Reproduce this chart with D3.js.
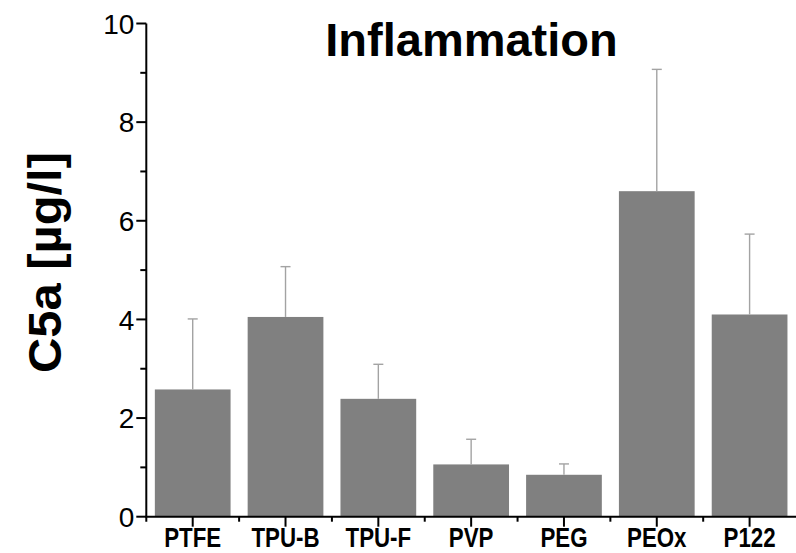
<!DOCTYPE html>
<html lang="en">
<head>
    <meta charset="utf-8">
    <title>Inflammation C5a</title>
    <script src="https://d3js.org/d3.v7.min.js"></script>
    <style>
        body {
            margin: 0;
            background-color: #fff;
        }

        .tick-label {
            font-family: Arial, "Liberation Sans", sans-serif;
            font-size: 28px;
        }

        .cat-label {
            font-family: Arial, "Liberation Sans", sans-serif;
            font-weight: bold;
            font-size: 27.5px;
        }
    </style>
</head>
<body>
    <svg id="chart" width="796" height="553"></svg>

    <script>
        // values
        const groups = ["PTFE", "TPU-B", "TPU-F", "PVP", "PEG", "PEOx", "P122"];
        const means = [2.58, 4.05, 2.39, 1.06, 0.85, 6.60, 4.10];
        const errors = [1.43, 1.02, 0.70, 0.51, 0.22, 2.47, 1.63];
        const yTicks = [0, 2, 4, 6, 8, 10];
        const yMinorTicks = [1, 3, 5, 7, 9];

        const svg = d3.select("#chart");

        let x = d3.scaleBand()
            .domain(groups)
            .range([146.3, 796])
            .paddingInner(0.184)
            .paddingOuter(0.092);

        let y = d3.scaleLinear()
            .domain([0, 10])
            .range([516.7, 23.5]);

        let data = groups.map((g, i) => ({ group: g, mean: means[i], err: errors[i] }));

        // bars
        svg.selectAll(".bar")
            .data(data)
            .join("rect")
            .attr("class", "bar")
            .attr("x", d => x(d.group))
            .attr("width", x.bandwidth())
            .attr("y", d => y(d.mean))
            .attr("height", d => y(0) - y(d.mean))
            .attr("fill", "#808080");

        // error bars (upper only)
        let eb = svg.selectAll(".err")
            .data(data)
            .join("g")
            .attr("class", "err")
            .attr("stroke", "#a3a3a3")
            .attr("stroke-width", 1.4);

        eb.append("line")
            .attr("x1", d => x(d.group) + x.bandwidth() / 2)
            .attr("x2", d => x(d.group) + x.bandwidth() / 2)
            .attr("y1", d => y(d.mean))
            .attr("y2", d => y(d.mean + d.err));

        eb.append("line")
            .attr("x1", d => x(d.group) + x.bandwidth() / 2 - 5)
            .attr("x2", d => x(d.group) + x.bandwidth() / 2 + 5)
            .attr("y1", d => y(d.mean + d.err))
            .attr("y2", d => y(d.mean + d.err));

        // y axis
        let yAxis = svg.append("g")
            .attr("transform", "translate(146.3,0)");

        yAxis.append("line")
            .attr("y1", y(10))
            .attr("y2", y(0) + 5)
            .attr("stroke", "#000")
            .attr("stroke-width", 2);

        yAxis.selectAll(".major")
            .data(yTicks)
            .join("line")
            .attr("x1", -10)
            .attr("x2", 0)
            .attr("y1", d => y(d))
            .attr("y2", d => y(d))
            .attr("stroke", "#000")
            .attr("stroke-width", 2);

        yAxis.selectAll(".minor")
            .data(yMinorTicks)
            .join("line")
            .attr("x1", -6)
            .attr("x2", 0)
            .attr("y1", d => y(d))
            .attr("y2", d => y(d))
            .attr("stroke", "#000")
            .attr("stroke-width", 2);

        yAxis.selectAll(".tick-label")
            .data(yTicks)
            .join("text")
            .attr("class", "tick-label")
            .attr("x", -12)
            .attr("y", d => y(d))
            .attr("dy", "0.36em")
            .attr("text-anchor", "end")
            .text(d => d);

        // x axis
        let xAxis = svg.append("g")
            .attr("transform", `translate(0,${y(0)})`);

        xAxis.append("line")
            .attr("x1", 146.3 - 1)
            .attr("x2", 796)
            .attr("stroke", "#000")
            .attr("stroke-width", 2);

        xAxis.selectAll(".major")
            .data(groups)
            .join("line")
            .attr("x1", d => x(d) + x.bandwidth() / 2)
            .attr("x2", d => x(d) + x.bandwidth() / 2)
            .attr("y1", 0)
            .attr("y2", 10)
            .attr("stroke", "#000")
            .attr("stroke-width", 2);

        xAxis.selectAll(".minor")
            .data(groups.slice(1))
            .join("line")
            .attr("x1", d => x(d) - x.step() * x.paddingInner() / 2)
            .attr("x2", d => x(d) - x.step() * x.paddingInner() / 2)
            .attr("y1", 0)
            .attr("y2", 5)
            .attr("stroke", "#000")
            .attr("stroke-width", 2);

        // condensed bold labels, like a narrow face
        xAxis.selectAll(".cat-label")
            .data(groups)
            .join("text")
            .attr("class", "cat-label")
            .attr("transform", d => `translate(${x(d) + x.bandwidth() / 2},30.5) scale(0.81,1)`)
            .attr("text-anchor", "middle")
            .text(d => d);

        // title
        svg.append("text")
            .attr("x", 471.5)
            .attr("y", 56)
            .attr("text-anchor", "middle")
            .style("font-family", "Arial, 'Liberation Sans', sans-serif")
            .style("font-weight", "bold")
            .style("font-size", "47px")
            .text("Inflammation");

        // y label
        svg.append("text")
            .attr("transform", "translate(61,262.5) rotate(-90) scale(1.04,1)")
            .attr("text-anchor", "middle")
            .style("font-family", "Arial, 'Liberation Sans', sans-serif")
            .style("font-weight", "bold")
            .style("font-size", "47px")
            .text("C5a [µg/l]");
    </script>
</body>
</html>
